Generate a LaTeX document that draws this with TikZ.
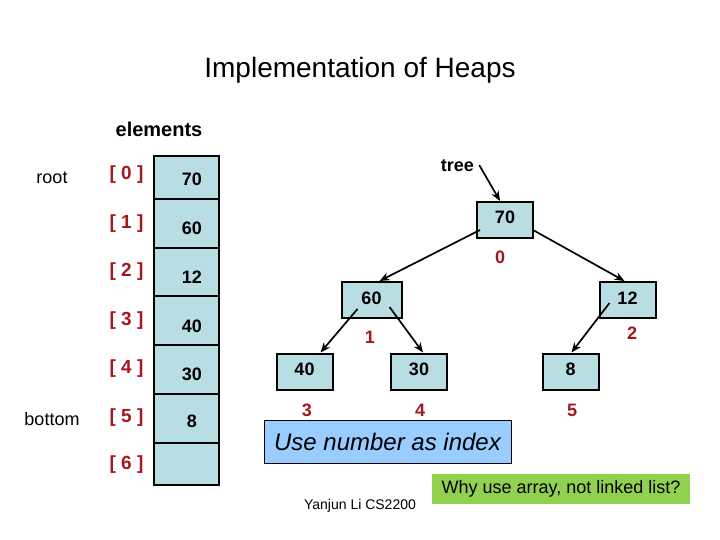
\documentclass[tikz,border=0pt]{standalone}
\usepackage{fontspec}
\setmainfont{Liberation Sans}
\usetikzlibrary{arrows.meta}
\definecolor{cellfill}{RGB}{184,222,228}
\definecolor{idxred}{RGB}{165,22,30}
\definecolor{notefill}{RGB}{153,204,255}
\definecolor{askfill}{RGB}{146,208,80}
\tikzset{
  heapbox/.style={draw, line width=2pt, fill=cellfill, minimum width=56pt, minimum height=36pt,
    inner sep=0pt, text height=13pt, text depth=5pt, font=\fontsize{18}{20}\selectfont\bfseries},
  idx/.style={text=idxred, inner sep=0pt, anchor=base, font=\fontsize{18}{20}\selectfont\bfseries},
  slot/.style={text=idxred, inner sep=0pt, anchor=base, font=\fontsize{19}{21}\selectfont\bfseries},
  val/.style={inner sep=0pt, anchor=base, font=\fontsize{18}{20}\selectfont\bfseries},
  link/.style={line width=1.7pt, -{Stealth[length=10pt,width=8pt]}}
}
\begin{document}
\begin{tikzpicture}[x=1pt,y=-1pt]
\useasboundingbox (0,0) rectangle (720,540);
% title
\node[inner sep=0pt, anchor=base, font=\fontsize{28}{32}\selectfont] (title) at (360,78) {Implementation of Heaps};
% the array
\node[inner sep=0pt, anchor=base, font=\fontsize{20}{22}\selectfont\bfseries] (elements) at (159,137) {elements};
\fill[cellfill] (154,156) rectangle (219,485);
\draw[line width=2.2pt] (154,156) rectangle (219,485);
\foreach \y in {199,248,296,345,394,443}
  \draw[line width=2.2pt] (154,\y) -- (219,\y);
\foreach \k/\y in {0/180,1/229,2/276,3/325,4/373,5/422,6/469}
  \node[slot] (slot\k) at (126.5,\y) {[ \k\ ]};
\foreach \k/\v/\y in {0/70/186,1/60/234,2/12/283,3/40/332,4/30/380,5/8/427}
  \node[val] (val\k) at (192,\y) {\v};
\node[inner sep=0pt, anchor=base, font=\fontsize{18}{20}\selectfont] (root) at (52,184) {root};
\node[inner sep=0pt, anchor=base, font=\fontsize{18}{20}\selectfont] (bottom) at (52,425) {bottom};
% the tree
\node[heapbox] (n70) at (505,220) {70};
\node[heapbox, minimum width=60pt] (n60) at (371.5,300) {60};
\node[heapbox] (n12) at (627.5,300) {12};
\node[heapbox] (n40) at (304.5,371.5) {40};
\node[heapbox] (n30) at (419,371.5) {30};
\node[heapbox] (n8) at (570.5,371.5) {8};
\node[inner sep=0pt, font=\fontsize{18}{20}\selectfont\bfseries] (tree) at (457.5,166) {tree};
\node[idx] (i0) at (500,263) {0};
\node[idx] (i1) at (370,343) {1};
\node[idx] (i2) at (632,339) {2};
\node[idx] (i3) at (307,416) {3};
\node[idx] (i4) at (420,416) {4};
\node[idx] (i5) at (572,416) {5};
\draw[link] ([xshift=5pt,yshift=1pt]tree.east) -- ([xshift=-5pt]n70.north);
\draw[link] ([xshift=4pt,yshift=9pt]n70.south west) -- ([xshift=8pt]n60.north);
\draw[link] ([xshift=-1pt,yshift=9pt]n70.south east) -- ([xshift=-3pt]n12.north);
\draw[link] ([xshift=-14pt,yshift=-9pt]n60.center) -- ([xshift=16pt]n40.north);
\draw[link] ([xshift=18pt,yshift=-7pt]n60.center) -- ([xshift=4pt]n30.north);
\draw[link] ([xshift=-18pt,yshift=-3pt]n12.center) -- ([xshift=1pt]n8.north);
% notes
\node[draw, line width=0.9pt, fill=notefill, minimum width=247pt, minimum height=43pt, inner sep=0pt,
  font=\fontsize{24}{26}\selectfont\itshape] (note) at (387.5,441.5) {Use number as index};
\node[fill=askfill, minimum width=258pt, minimum height=30pt, inner sep=0pt,
  font=\fontsize{18}{20}\selectfont] (ask) at (561,489) {Why use array, not linked list?};
\node[inner sep=0pt, anchor=base, font=\fontsize{14}{16}\selectfont] (author) at (360,509) {Yanjun Li CS2200};
\end{tikzpicture}
\end{document}
